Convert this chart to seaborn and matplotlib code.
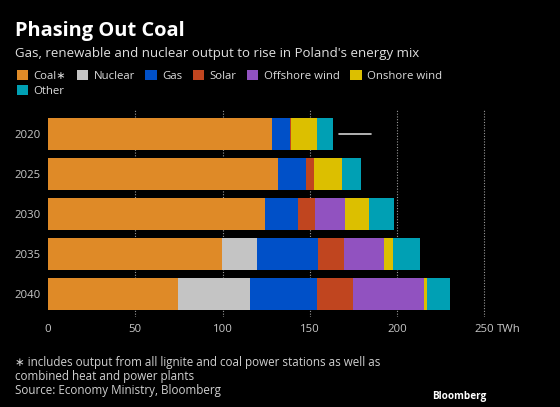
import pandas as pd
import numpy as np
import matplotlib
matplotlib.use("Agg")
import matplotlib.pyplot as plt
import seaborn as sns
from matplotlib.patches import Patch

sns.set_style("dark")
plt.rcParams['font.family'] = ['Open Sans', 'DejaVu Sans']

# data (TWh)
years = ["2020", "2025", "2030", "2035", "2040"]
sources = ["Coal∗", "Nuclear", "Gas", "Solar", "Offshore wind", "Onshore wind", "Other"]
coal = [128.5, 132.0, 124.5, 99.5, 74.5]
nuclear = [0.0, 0.0, 0.0, 20.5, 41.5]
gas = [10.0, 16.0, 19.0, 35.0, 38.0]
solar = [0.5, 4.5, 9.5, 14.5, 20.5]
offshore = [0.0, 0.0, 17.0, 23.0, 41.0]
onshore = [15.0, 16.0, 14.0, 5.0, 1.5]
other = [9.5, 11.0, 14.0, 15.5, 13.5]
ticks = [0, 50, 100, 150, 200, 250]

colors = ["#df8a27", "#c4c4c4", "#0050c8", "#c0451f", "#9152c0", "#dcbf00", "#00a0b4"]

df = pd.DataFrame({"year": years, "Coal∗": coal, "Nuclear": nuclear, "Gas": gas,
                   "Solar": solar, "Offshore wind": offshore,
                   "Onshore wind": onshore, "Other": other})
cum = df[sources].cumsum(axis=1)

bg = "black"
fig = plt.figure(figsize=(5.6, 4.07), dpi=100, facecolor=bg)
ax = fig.add_axes([48 / 560, 90 / 407, (501.7 - 48) / 560, 207 / 407])
ax.set_facecolor(bg)

# stacked bars: draw running totals from the last series back to the first
for src, col in reversed(list(zip(sources, colors))):
    sns.barplot(x=cum[src], y=df["year"], color=col, orient="h", width=0.8,
                saturation=1, ax=ax, linewidth=0)

ax.set_xlim(0, 260)
ax.set_ylim(4.58, -0.6)
ax.set_xticks(ticks)
ax.set_xticklabels([str(t) for t in ticks])
ax.set_xlabel("")
ax.set_ylabel("")
ax.grid(axis="x", color="#9a9a9a", linestyle=(0, (1, 1.5)), linewidth=0.8)
ax.grid(axis="y", visible=False)
ax.xaxis.get_gridlines()[0].set_visible(False)
ax.set_axisbelow(True)
for s in ax.spines.values():
    s.set_visible(False)
ax.tick_params(colors="#c8c8c8", labelsize=8.2, length=0, pad=5)
ax.tick_params(axis="y", pad=5)
ax.annotate("TWh", xy=(250, 0), xycoords=("data", "axes fraction"),
            xytext=(9, -5), textcoords="offset points", ha="left", va="top",
            color="#c8c8c8", fontsize=8.2)

# short white marker next to the 2020 bar
ax.plot([166.5, 185], [0, 0], color="#d0d0d0", linewidth=1.2)

fig.text(15 / 560, 1 - 36 / 407, "Phasing Out Coal", color="white",
         fontsize=14.4, fontweight="bold")
fig.text(15 / 560, 1 - 57 / 407,
         "Gas, renewable and nuclear output to rise in Poland's energy mix",
         color="#e0e0e0", fontsize=9.5)

handles = [Patch(facecolor=c, edgecolor="none") for c in colors]
order = [0, 6, 1, 2, 3, 4, 5]
fig.legend([handles[i] for i in order], [sources[i] for i in order],
           loc="upper left", bbox_to_anchor=(12 / 560, 1 - 65 / 407), ncol=6,
           frameon=False, fontsize=8.2, labelcolor="#dcdcdc",
           handlelength=1.0, handleheight=1.0, handletextpad=0.5,
           columnspacing=0.9, labelspacing=0.3, borderaxespad=0)

fig.text(15 / 560, 1 - 356 / 407,
         "∗ includes output from all lignite and coal power stations as well as\n"
         "combined heat and power plants\nSource: Economy Ministry, Bloomberg",
         color="#d0d0d0", fontsize=8.4, linespacing=1.12, va="top")
fig.text(432 / 560, 1 - 396 / 407, "Bloomberg", color="white", fontsize=7.2,
         fontweight="bold", va="center")

plt.savefig("out.png", dpi=100, facecolor=bg)
